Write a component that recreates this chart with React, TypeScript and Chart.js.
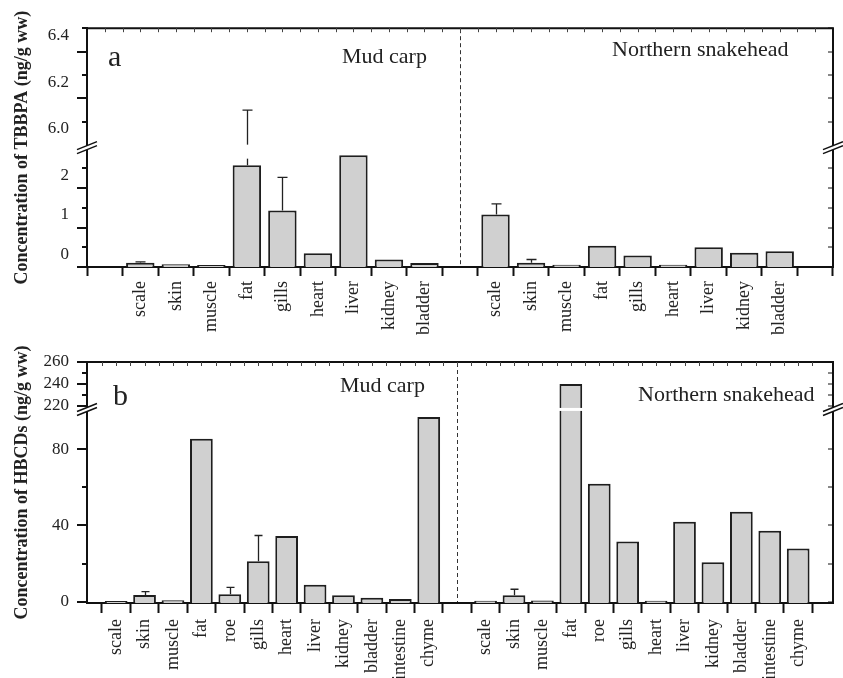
import React, { useEffect, useRef } from "react";
import { Chart, registerables } from "chart.js";

Chart.register(...registerables);

const FONT = "'Liberation Serif', 'Times New Roman', Times, serif";
const INK = "#222";

// ---------- Panel a : TBBPA ----------
const tissuesA = ["scale", "skin", "muscle", "fat", "gills", "heart", "liver", "kidney", "bladder"];
const tbbpaMudCarp = [-0.39, -0.43, -0.45, 2.08, 0.93, -0.15, 2.33, -0.31, -0.4];
const tbbpaMudCarpSD = [0.02, 0, 0, 3.97, 0.84, 0, 0, 0, 0];
const tbbpaSnakehead = [0.83, -0.39, -0.44, 0.04, -0.21, -0.44, 0.0, -0.14, -0.1];
const tbbpaSnakeheadSD = [0.27, 0.08, 0, 0, 0, 0, 0, 0, 0];
const tbbpaTicks = [-0.5, 0, 0.5, 1, 1.5, 2, 6.0, 6.1, 6.2, 6.3, 6.4];
const tbbpaTickLabels = ["", "0", "", "1", "", "2", "6.0", "", "6.2", "", "6.4"];

// ---------- Panel b : HBCDs ----------
const tissuesB = ["scale", "skin", "muscle", "fat", "roe", "gills", "heart", "liver", "kidney", "bladder", "intestine", "chyme"];
const hbcdMudCarp = [0.3, 3.5, 0.8, 85.4, 3.9, 21.2, 34.4, 8.9, 3.3, 2.1, 1.4, 96.8];
const hbcdMudCarpSD = [0, 1.8, 0, 0, 3.6, 13.5, 0, 0, 0, 0, 0, 0];
const hbcdSnakehead = [0.5, 3.3, 0.6, 240, 61.8, 31.6, 0.5, 41.9, 20.7, 47.2, 37.2, 27.9];
const hbcdSnakeheadSD = [0, 3.2, 0, 0, 0, 0, 0, 0, 0, 0, 0, 0];
const hbcdTicks = [0, 20, 40, 60, 80, 220, 230, 240, 250, 260];
const hbcdTickLabels = ["0", "", "40", "", "80", "220", "", "240", "", "260"];

const speciesNames = ["Mud carp", "Northern snakehead"];

type Panel = {
  letter: string;
  yTitle: string;
  tissues: string[];
  mud: number[];
  mudSD: number[];
  snake: number[];
  snakeSD: number[];
  ticks: number[];
  tickLabels: string[];
  lowMin: number;
  lowMax: number;
  upMin: number;
  upMax: number;
  upScale: number;
  mudStart: number;
  snakeStart: number;
  divider: number;
  xMin: number;
  xMax: number;
  padTop: number;
  canvasH: number;
  xAxisH: number;
  labelOffset: number;
  labeledTickLen: number;
  plainTickLen: number;
  capW: number;
  xTickLen: number;
  xPad: number;
  text: { letter: [number, number]; mud: [number, number]; snake: [number, number] };
};

const panelA: Panel = {
  letter: "a",
  yTitle: "Concentration of TBBPA (ng/g ww)",
  tissues: tissuesA,
  mud: tbbpaMudCarp,
  mudSD: tbbpaMudCarpSD,
  snake: tbbpaSnakehead,
  snakeSD: tbbpaSnakeheadSD,
  ticks: tbbpaTicks,
  tickLabels: tbbpaTickLabels,
  lowMin: -0.5,
  lowMax: 2.525,
  upMin: 5.89,
  upMax: 6.4,
  upScale: 5.9375,
  mudStart: 1,
  snakeStart: 11,
  divider: 10,
  xMin: 0,
  xMax: 20,
  padTop: 25,
  canvasH: 340,
  xAxisH: 73,
  labelOffset: 7,
  labeledTickLen: 5,
  plainTickLen: 10,
  capW: 10,
  xTickLen: 9,
  xPad: 5,
  text: { letter: [21, 38], mud: [255, 35], snake: [525, 28] },
};

const panelB: Panel = {
  letter: "b",
  yTitle: "Concentration of HBCDs (ng/g ww)",
  tissues: tissuesB,
  mud: hbcdMudCarp,
  mudSD: hbcdMudCarpSD,
  snake: hbcdSnakehead,
  snakeSD: hbcdSnakeheadSD,
  ticks: hbcdTicks,
  tickLabels: hbcdTickLabels,
  lowMin: -0.7,
  lowMax: 100,
  upMin: 215.5,
  upMax: 260,
  upScale: 0.5765,
  mudStart: 0,
  snakeStart: 13,
  divider: 12,
  xMin: -0.5,
  xMax: 24.7,
  padTop: 32,
  canvasH: 360,
  xAxisH: 87,
  labelOffset: 0,
  labeledTickLen: 10,
  plainTickLen: 5,
  capW: 8,
  xTickLen: 10,
  xPad: 6,
  text: { letter: [26, 43], mud: [253, 30], snake: [551, 39] },
};

function makeMap(p: Panel) {
  return (v: number) =>
    v <= p.lowMax ? v - p.lowMin : p.lowMax - p.lowMin + (v - p.upMin) * p.upScale;
}

function buildChart(canvas: HTMLCanvasElement, p: Panel) {
  const map = makeMap(p);
  const breakD = p.lowMax - p.lowMin;
  const positions: number[] = [];
  const names: Record<number, string> = {};
  p.tissues.forEach((t, i) => {
    names[p.mudStart + i] = t;
    names[p.snakeStart + i] = t;
  });
  for (let v = Math.ceil(p.xMin); v <= p.xMax; v++) positions.push(v);

  const barStyle = {
    backgroundColor: "#d0d0d0",
    borderColor: "#1e1e1e",
    borderWidth: 2,
    barPercentage: 0.8,
    categoryPercentage: 1,
    grouped: false,
  };

  const series = [
    { start: p.mudStart, vals: p.mud, sd: p.mudSD },
    { start: p.snakeStart, vals: p.snake, sd: p.snakeSD },
  ];

  const decor = {
    id: "decor",
    afterDraw(chart: any) {
      const ctx = chart.ctx as CanvasRenderingContext2D;
      const xs = chart.scales.x;
      const ys = chart.scales.y;
      const { left, right, top, bottom } = chart.chartArea;
      const breakPx = ys.getPixelForValue(breakD);
      ctx.save();

      // divider between species
      const dx = Math.round(xs.getPixelForValue(p.divider)) + 0.5;
      ctx.strokeStyle = "#333";
      ctx.lineWidth = 1;
      ctx.setLineDash([4, 3]);
      ctx.beginPath();
      ctx.moveTo(dx, top + 1);
      ctx.lineTo(dx, bottom - 1);
      ctx.stroke();
      ctx.setLineDash([]);

      // white band through bars that cross the break
      chart.data.datasets.forEach((_ds: any, di: number) => {
        const meta = chart.getDatasetMeta(di);
        series[di].vals.forEach((v, j) => {
          if (v > p.lowMax) {
            const el = meta.data[j];
            ctx.fillStyle = "#fff";
            ctx.fillRect(el.x - el.width / 2 - 2, breakPx - 3, el.width + 4, 3);
          }
        });
      });

      // error bars
      ctx.strokeStyle = "#222";
      ctx.lineWidth = 1.3;
      series.forEach((s) => {
        s.vals.forEach((v, j) => {
          const sd = s.sd[j];
          if (!sd) return;
          const x = Math.round(xs.getPixelForValue(s.start + j)) + 0.5;
          const y0 = ys.getPixelForValue(map(v));
          const y1 = ys.getPixelForValue(map(v + sd));
          ctx.beginPath();
          ctx.moveTo(x, y0);
          ctx.lineTo(x, y1);
          ctx.moveTo(x - p.capW / 2, y1);
          ctx.lineTo(x + p.capW / 2, y1);
          ctx.stroke();
          if (v <= p.lowMax && v + sd > p.lowMax) {
            ctx.fillStyle = "#fff";
            ctx.fillRect(x - 2, breakPx - 3, 4, 14);
          }
        });
      });

      // frame: top and right
      ctx.strokeStyle = "#111";
      ctx.lineWidth = 2;
      ctx.beginPath();
      ctx.moveTo(left, top);
      ctx.lineTo(right, top);
      ctx.lineTo(right, bottom);
      ctx.stroke();

      // y ticks (outward left, inward right)
      p.ticks.forEach((t, i) => {
        const py = Math.round(ys.getPixelForValue(map(t)));
        const len = p.tickLabels[i] ? p.labeledTickLen : p.plainTickLen;
        ctx.lineWidth = 2;
        ctx.beginPath();
        ctx.moveTo(left, py);
        ctx.lineTo(left - len, py);
        ctx.stroke();
        ctx.lineWidth = 1;
        ctx.beginPath();
        ctx.moveTo(right, py);
        ctx.lineTo(right - 5, py);
        ctx.stroke();
      });

      // top inward minor ticks
      ctx.lineWidth = 1;
      ctx.strokeStyle = "#444";
      for (let v = Math.ceil(p.xMin * 2) / 2; v <= p.xMax; v += 0.5) {
        const px = Math.round(xs.getPixelForValue(v)) + 0.5;
        ctx.beginPath();
        ctx.moveTo(px, top);
        ctx.lineTo(px, top + 4);
        ctx.stroke();
      }

      // axis break marks
      const bm = breakPx - (p.letter === "b" ? 1.5 : 0);
      const drawBreak = (x: number) => {
        ctx.fillStyle = "#fff";
        ctx.beginPath();
        ctx.moveTo(x - 10, bm + 6);
        ctx.lineTo(x + 10, bm - 2);
        ctx.lineTo(x + 10, bm - 6);
        ctx.lineTo(x - 10, bm + 2);
        ctx.closePath();
        ctx.fill();
        ctx.strokeStyle = "#111";
        ctx.lineWidth = 1.5;
        ctx.beginPath();
        ctx.moveTo(x - 10, bm + 6);
        ctx.lineTo(x + 10, bm - 2);
        ctx.moveTo(x - 10, bm + 2);
        ctx.lineTo(x + 10, bm - 6);
        ctx.stroke();
      };
      drawBreak(left);
      drawBreak(right);

      // texts
      ctx.fillStyle = INK;
      ctx.textBaseline = "alphabetic";
      ctx.textAlign = "left";
      ctx.font = `30px ${FONT}`;
      ctx.fillText(p.letter, left + p.text.letter[0], top + p.text.letter[1]);
      ctx.font = `22px ${FONT}`;
      ctx.fillText(speciesNames[0], left + p.text.mud[0], top + p.text.mud[1]);
      ctx.fillText(speciesNames[1], left + p.text.snake[0], top + p.text.snake[1]);
      ctx.restore();
    },
  };

  return new Chart(canvas, {
    type: "bar",
    data: {
      datasets: series.map((s) => ({
        ...barStyle,
        data: s.vals.map((v, i) => ({ x: s.start + i, y: map(v) })),
      })),
    },
    options: {
      animation: false,
      responsive: false,
      events: [],
      layout: { padding: { top: p.padTop, right: 10, left: 0, bottom: 0 } },
      plugins: { legend: { display: false }, tooltip: { enabled: false }, title: { display: false } },
      scales: {
        x: {
          type: "linear",
          min: p.xMin,
          max: p.xMax,
          afterBuildTicks: (s: any) => {
            s.ticks = positions.map((v) => ({ value: v }));
          },
          afterFit: (s: any) => {
            s.height = p.xAxisH;
          },
          ticks: {
            autoSkip: false,
            maxRotation: 90,
            minRotation: 90,
            padding: p.xPad,
            color: INK,
            font: { family: FONT, size: 18 },
            callback: (v: any) => names[Math.round(Number(v))] ?? "",
          },
          grid: {
            display: true,
            drawOnChartArea: false,
            drawTicks: true,
            tickLength: p.xTickLen,
            tickWidth: 2,
            tickColor: "#111",
          },
          border: { display: true, color: "#111", width: 2 },
        },
        y: {
          type: "linear",
          min: 0,
          max: map(p.upMax),
          afterBuildTicks: (s: any) => {
            s.ticks = p.ticks.map((t) => ({ value: map(t) }));
          },
          afterFit: (s: any) => {
            s.width = 87;
          },
          ticks: {
            autoSkip: false,
            padding: 18,
            labelOffset: p.labelOffset,
            color: INK,
            font: { family: FONT, size: 17 },
            callback: (_v: any, i: number) => p.tickLabels[i],
          },
          grid: { display: false, drawTicks: false },
          border: { display: true, color: "#111", width: 2 },
          title: {
            display: true,
            text: p.yTitle,
            color: INK,
            font: { family: FONT, size: 18, weight: "bold" },
            padding: { top: 12, bottom: 0 },
          },
        },
      },
    } as any,
    plugins: [decor],
  });
}

export default function App() {
  const refA = useRef<HTMLCanvasElement>(null);
  const refB = useRef<HTMLCanvasElement>(null);

  useEffect(() => {
    const a = buildChart(refA.current!, panelA);
    const b = buildChart(refB.current!, panelB);
    return () => {
      a.destroy();
      b.destroy();
    };
  }, []);

  return (
    <div
      style={{
        position: "fixed",
        left: 0,
        top: 0,
        width: 843,
        height: 678,
        overflow: "hidden",
        background: "#fff",
      }}
    >
      <canvas ref={refA} width={843} height={panelA.canvasH} style={{ position: "absolute", left: 0, top: 0 }} />
      <canvas ref={refB} width={843} height={panelB.canvasH} style={{ position: "absolute", left: 0, top: 330 }} />
    </div>
  );
}
